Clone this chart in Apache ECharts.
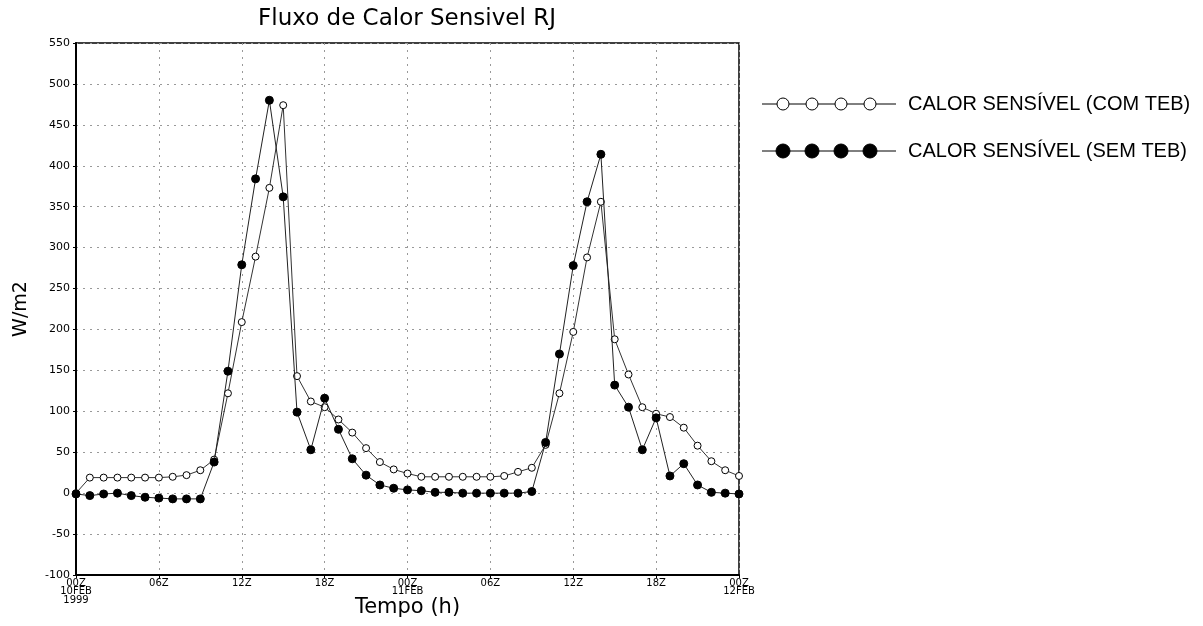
<!DOCTYPE html>
<html>
<head>
<meta charset="utf-8">
<script src="https://cdn.jsdelivr.net/npm/echarts@6/dist/echarts.min.js"></script>
<style>
html,body{margin:0;padding:0;background:#fff;}
#chart{width:1203px;height:626px;}
</style>
</head>
<body>
<div id="chart"></div>
<script>
// Data (hourly, 00Z 10FEB1999 -> 00Z 12FEB1999)
const hours = [0,1,2,3,4,5,6,7,8,9,10,11,12,13,14,15,16,17,18,19,20,21,22,23,24,25,26,27,28,29,30,31,32,33,34,35,36,37,38,39,40,41,42,43,44,45,46,47,48];
const comTeb = [0,19,19,19,19,19,19,20,22,28,41,122,209,289,373,474,143,112,105,90,74,55,38,29,24,20,20,20,20,20,20,21,26,31,59,122,197,288,356,188,145,105,97,93,80,58,39,28,21];
const semTeb = [-1,-3,-1,0,-3,-5,-6,-7,-7,-7,38,149,279,384,480,362,99,53,116,78,42,22,10,6,4,3,1,1,0,0,0,0,0,2,62,170,278,356,414,132,105,53,92,21,36,10,1,0,-1];
const xTickLabels = ['00Z\n10FEB\n1999','06Z','12Z','18Z','00Z\n11FEB','06Z','12Z','18Z','00Z\n12FEB'];
const seriesNames = ['CALOR SENSÍVEL (COM TEB)','CALOR SENSÍVEL (SEM TEB)'];
const titleText = 'Fluxo de Calor Sensivel RJ';

const chart = echarts.init(document.getElementById('chart'));
const pair = arr => hours.map((h,i)=>[h,arr[i]]);

function legendGraphics(y, filled, label){
  const g = [];
  g.push({type:'line', shape:{x1:762,y1:y,x2:896,y2:y}, style:{stroke:'#000', lineWidth:1}, z:10});
  const xs = [783,812,841,870];
  xs.forEach(x=>{
    g.push({type:'circle', shape:{cx:x, cy:y, r: filled?7:6}, style:{fill: filled?'#000':'#fff', stroke:'#000', lineWidth:1}, z:11});
  });
  g.push({type:'text', x:908, y:y, style:{text:label, font:'20px "Liberation Sans", Arial, sans-serif', fill:'#000', verticalAlign:'middle', textVerticalAlign:'middle'}, z:11});
  return g;
}

const option = {
  backgroundColor:'#fff',
  animation:false,
  title:{
    text:titleText, left:402, top:3, textAlign:'center',
    textStyle:{fontFamily:'DejaVu Sans', fontWeight:'normal', fontSize:23, color:'#000'}
  },
  grid:{left:76, right:464, top:43, bottom:51, show:true, borderColor:'#000', borderWidth:1.5, outerBoundsMode:'none', containLabel:false},
  xAxis:{
    type:'value', min:0, max:48, interval:6,
    name:'Tempo (h)', nameLocation:'middle', nameGap:22, nameMoveOverlap:false,
    nameTextStyle:{fontFamily:'DejaVu Sans', fontSize:21, color:'#000'},
    axisLine:{show:true, onZero:false, lineStyle:{color:'#000', width:2}},
    axisTick:{show:true, length:3, lineStyle:{color:'#000'}},
    axisLabel:{
      formatter: v => xTickLabels[Math.round(v/6)] || '',
      fontFamily:'DejaVu Sans', fontSize:10, lineHeight:8.5, color:'#000', margin:4
    },
    splitLine:{show:true, lineStyle:{color:'#999', type:[2,5], width:1}}
  },
  yAxis:{
    type:'value', min:-100, max:550, interval:50,
    name:'W/m2', nameLocation:'middle', nameGap:45, nameRotate:90, nameMoveOverlap:false,
    nameTextStyle:{fontFamily:'DejaVu Sans', fontSize:19, color:'#000'},
    axisLine:{show:true, onZero:false, lineStyle:{color:'#000', width:2}},
    axisTick:{show:true, length:3, lineStyle:{color:'#000'}},
    axisLabel:{fontFamily:'DejaVu Sans', fontSize:11, color:'#000', margin:6},
    splitLine:{show:true, lineStyle:{color:'#999', type:[2,5], width:1}}
  },
  series:[
    {
      name:seriesNames[0], type:'line', data:pair(comTeb),
      symbol:'circle', symbolSize:7, showAllSymbol:true,
      lineStyle:{color:'#333', width:1},
      itemStyle:{color:'#fff', borderColor:'#000', borderWidth:1},
      z:3
    },
    {
      name:seriesNames[1], type:'line', data:pair(semTeb),
      symbol:'circle', symbolSize:8, showAllSymbol:true,
      lineStyle:{color:'#222', width:1},
      itemStyle:{color:'#000', borderColor:'#000', borderWidth:1},
      z:4
    }
  ],
  graphic: [].concat(legendGraphics(104, false, seriesNames[0]), legendGraphics(151, true, seriesNames[1]))
};
chart.setOption(option);
</script>
</body>
</html>
